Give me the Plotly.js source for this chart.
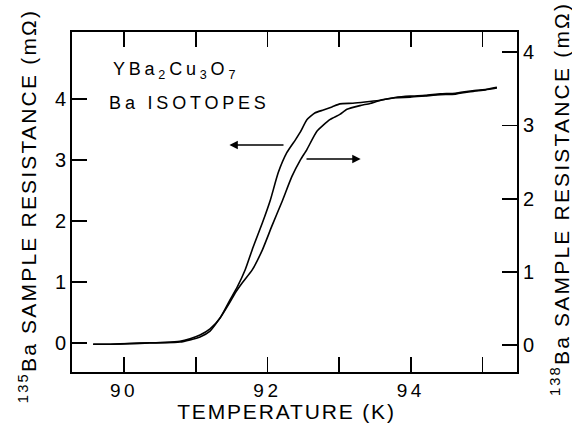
<!DOCTYPE html>
<html>
<head>
<meta charset="utf-8">
<script src="https://cdn.plot.ly/plotly-3.0.1.min.js"></script>
<style>
  html, body { margin: 0; padding: 0; background: #fff; }
  #chart { width: 572px; height: 423px; }
  g.xtick text { letter-spacing: 3.5px; }
  g.annotation[data-index="0"] text, g.annotation[data-index="1"] text { letter-spacing: 3.8px; }
  g.annotation[data-index="4"] text { letter-spacing: 1.85px; }
  g.annotation[data-index="5"] text, g.annotation[data-index="6"] text { letter-spacing: 2.2px; }
</style>
</head>
<body>
<div id="chart"></div>
<script>
// 135Ba sample (left axis, mOhm)
const temp135 = [89.57, 89.81, 90.08, 90.36, 90.57, 90.78, 90.92, 91.06, 91.20, 91.34, 91.48, 91.58, 91.69, 91.80, 91.93, 92.04, 92.15, 92.27, 92.39, 92.46, 92.55, 92.66, 92.78, 92.90, 93.01, 93.19, 93.36, 93.57, 93.78, 93.99, 94.20, 94.41, 94.62, 94.83, 95.04, 95.20];
const res135  = [-0.02, -0.02, -0.01, 0.00, 0.01, 0.03, 0.07, 0.13, 0.23, 0.41, 0.71, 0.92, 1.20, 1.57, 1.97, 2.34, 2.79, 3.12, 3.33, 3.46, 3.66, 3.77, 3.82, 3.87, 3.92, 3.93, 3.95, 3.98, 4.02, 4.03, 4.05, 4.07, 4.08, 4.12, 4.15, 4.18];
// 138Ba sample (right axis, mOhm)
const temp138 = [89.57, 89.81, 90.08, 90.36, 90.57, 90.78, 90.92, 91.06, 91.20, 91.34, 91.48, 91.55, 91.65, 91.79, 91.93, 92.06, 92.20, 92.34, 92.46, 92.55, 92.69, 92.87, 93.01, 93.11, 93.29, 93.43, 93.57, 93.78, 93.99, 94.20, 94.41, 94.62, 94.83, 95.04, 95.20];
const res138  = [0.01, 0.01, 0.02, 0.03, 0.03, 0.04, 0.07, 0.11, 0.19, 0.37, 0.59, 0.71, 0.85, 1.03, 1.30, 1.62, 1.95, 2.30, 2.53, 2.67, 2.92, 3.08, 3.15, 3.22, 3.27, 3.30, 3.34, 3.38, 3.40, 3.41, 3.43, 3.44, 3.47, 3.49, 3.52];

const xTickVals = [90, 92, 94];
const xTickText = ['90', '92', '94'];
const yTickVals = [0, 1, 2, 3, 4];
const yTickText = ['0', '1', '2', '3', '4'];

const xTitle = 'TEMPERATURE (K)';
const yTitleLeft = '<sup>135</sup>Ba SAMPLE RESISTANCE (mΩ)';
const yTitleRight = '<sup>138</sup>Ba SAMPLE RESISTANCE (mΩ)';

const FONT = 'Liberation Sans, Arial, sans-serif';

const traces = [
  { x: temp135, y: res135, type: 'scatter', mode: 'lines', yaxis: 'y',
    line: { color: '#000', width: 1.6, shape: 'spline', smoothing: 0.5 }, showlegend: false, hoverinfo: 'skip' },
  { x: temp138, y: res138, type: 'scatter', mode: 'lines', yaxis: 'y2',
    line: { color: '#000', width: 1.6, shape: 'spline', smoothing: 0.5 }, showlegend: false, hoverinfo: 'skip' }
];

const axisCommon = {
  showgrid: false, zeroline: false, showline: true, linecolor: '#000', linewidth: 2,
  ticks: 'inside', ticklen: 15, tickwidth: 1.8, tickcolor: '#000',
  tickfont: { family: FONT, size: 20, color: '#000' }
};

const layout = {
  width: 572, height: 423,
  margin: { l: 72, r: 55, t: 32, b: 51 },
  paper_bgcolor: '#fff', plot_bgcolor: '#fff',
  xaxis: Object.assign({}, axisCommon, {
    range: [89.275, 95.48], mirror: 'ticks',
    tickmode: 'array', tickvals: xTickVals, ticktext: xTickText,
    tickfont: { family: FONT, size: 19, color: '#000' },
    minor: { tick0: 90, dtick: 1, ticks: 'inside', ticklen: 15, tickwidth: 1.8, tickcolor: '#000', showgrid: false }
  }),
  yaxis: Object.assign({}, axisCommon, {
    range: [-0.475, 5.098],
    tickmode: 'array', tickvals: yTickVals, ticktext: yTickText
  }),
  yaxis2: Object.assign({}, axisCommon, {
    range: [-0.369, 4.276], overlaying: 'y', side: 'right',
    tickmode: 'array', tickvals: yTickVals, ticktext: yTickText
  }),
  annotations: [
    { xref: 'paper', yref: 'paper', x: 0.126, y: 0.888, xanchor: 'left', yanchor: 'middle',
      text: 'YBa<sub>2</sub>Cu<sub>3</sub>O<sub>7</sub>', showarrow: false,
      font: { family: FONT, size: 18, color: '#000' } },
    { xref: 'paper', yref: 'paper', x: 0.125, y: 0.79, xanchor: 'left', yanchor: 'middle',
      text: 'Ba ISOTOPES', showarrow: false,
      font: { family: FONT, size: 18, color: '#000' } },
    { xref: 'x', yref: 'y', x: 91.47, y: 3.246, axref: 'x', ayref: 'y', ax: 92.245, ay: 3.246,
      text: '', showarrow: true, arrowhead: 2, arrowsize: 1.2, arrowwidth: 1.4, arrowcolor: '#000' },
    { xref: 'x', yref: 'y2', x: 93.30, y: 2.541, axref: 'x', ayref: 'y2', ax: 92.524, ay: 2.541,
      text: '', showarrow: true, arrowhead: 2, arrowsize: 1.2, arrowwidth: 1.4, arrowcolor: '#000' },
    { xref: 'paper', yref: 'paper', x: 0.483, y: -0.1176, xanchor: 'center', yanchor: 'middle',
      text: xTitle, showarrow: false, font: { family: FONT, size: 21, color: '#000' } },
    { xref: 'paper', yref: 'paper', x: -0.099, y: 0.49, xanchor: 'center', yanchor: 'middle', textangle: -90,
      text: yTitleLeft, showarrow: false, font: { family: FONT, size: 21, color: '#000' } },
    { xref: 'paper', yref: 'paper', x: 1.096, y: 0.51, xanchor: 'center', yanchor: 'middle', textangle: -90,
      text: yTitleRight, showarrow: false, font: { family: FONT, size: 21, color: '#000' } }
  ]
};

Plotly.newPlot('chart', traces, layout, { staticPlot: true, displayModeBar: false });
</script>
</body>
</html>
